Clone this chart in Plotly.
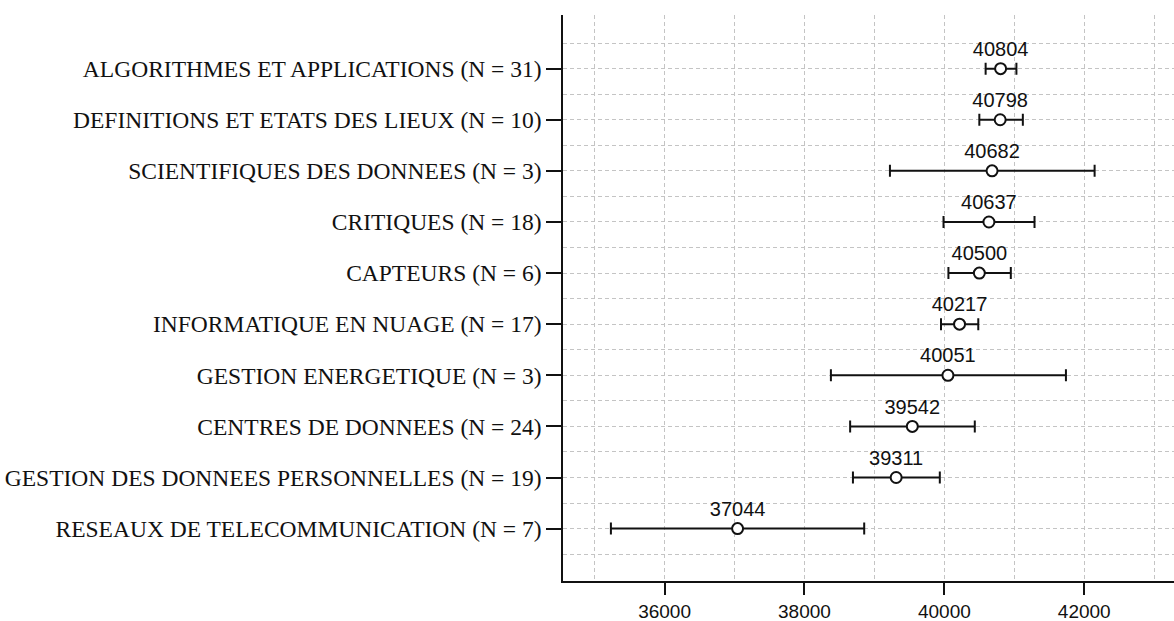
import plotly.graph_objects as go

categories = [
    "ALGORITHMES ET APPLICATIONS (N = 31)",
    "DEFINITIONS ET ETATS DES LIEUX (N = 10)",
    "SCIENTIFIQUES DES DONNEES (N = 3)",
    "CRITIQUES (N = 18)",
    "CAPTEURS (N = 6)",
    "INFORMATIQUE EN NUAGE (N = 17)",
    "GESTION ENERGETIQUE (N = 3)",
    "CENTRES DE DONNEES (N = 24)",
    "GESTION DES DONNEES PERSONNELLES (N = 19)",
    "RESEAUX DE TELECOMMUNICATION (N = 7)",
]
means = [40804, 40798, 40682, 40637, 40500, 40217, 40051, 39542, 39311, 37044]
lower = [40590, 40500, 39222, 39988, 40058, 39952, 38378, 38653, 38693, 35233]
upper = [41030, 41122, 42148, 41289, 40950, 40485, 41738, 40435, 39935, 38854]
x_ticks = [36000, 38000, 40000, 42000]
x_minor = [35000, 37000, 39000, 41000, 43000]

n = len(categories)
ypos = [n - i for i in range(n)]
err_plus = [u - m for u, m in zip(upper, means)]
err_minus = [m - l for m, l in zip(means, lower)]

grid_color = "#c4c4c4"
grid_dash = "4px,3px"

fig = go.Figure()
fig.add_trace(go.Scatter(
    x=means, y=ypos, mode="markers+text",
    text=[str(m) for m in means], textposition="top center",
    textfont=dict(family="Liberation Sans", size=20, color="#111111"),
    marker=dict(symbol="circle", size=11, color="white",
                line=dict(color="#111111", width=2)),
    error_x=dict(type="data", symmetric=False, array=err_plus,
                 arrayminus=err_minus, color="#111111", thickness=2, width=6),
    showlegend=False, cliponaxis=False, hoverinfo="skip",
))

fig.update_layout(
    width=1174, height=621,
    margin=dict(l=563, r=0, t=15, b=40),
    paper_bgcolor="white", plot_bgcolor="white",
)
fig.update_xaxes(
    automargin=False,
    range=[34548, 43283],
    tickvals=x_ticks, tickformat="d",
    ticks="outside", ticklen=12, tickwidth=2, tickcolor="#111111",
    tickfont=dict(family="Liberation Sans", size=19, color="#111111"),
    ticklabelstandoff=0,
    showline=True, linecolor="#111111", linewidth=1.5,
    showgrid=True, gridcolor=grid_color, griddash=grid_dash, gridwidth=1,
    minor=dict(tickvals=x_minor, showgrid=True, gridcolor=grid_color,
               griddash=grid_dash, gridwidth=1, ticks=""),
    zeroline=False,
)
fig.update_yaxes(
    automargin=False,
    range=[-0.025, 11.05],
    tickvals=ypos, ticktext=categories,
    ticks="outside", ticklen=15, tickwidth=2, tickcolor="#111111",
    tickfont=dict(family="Liberation Serif", size=23.5, color="#111111"),
    ticklabelstandoff=0,
    showline=True, linecolor="#111111", linewidth=1.5,
    showgrid=True, gridcolor=grid_color, griddash=grid_dash, gridwidth=1,
    minor=dict(tickvals=[v - 0.5 for v in ypos] + [n + 0.5], showgrid=True,
               gridcolor=grid_color, griddash=grid_dash, gridwidth=1, ticks=""),
    zeroline=False,
)

fig.write_html(
    "out.html",
    config={"displayModeBar": False},
    post_script="document.body.style.margin='0';document.body.style.overflow='hidden';",
)
